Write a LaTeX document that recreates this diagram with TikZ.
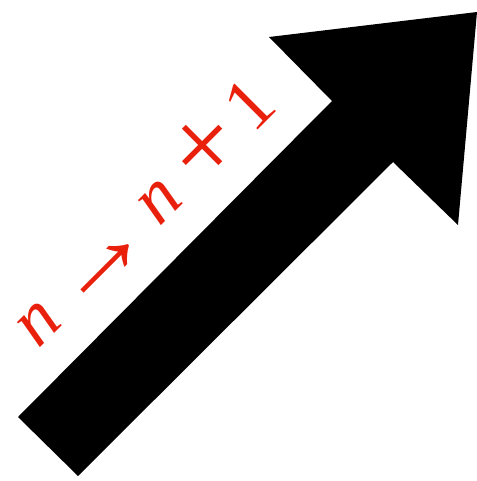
\documentclass[tikz,border=0pt]{standalone}
\usepackage{fontspec}
\setmainfont{Liberation Serif}
\usepackage{xcolor}
\definecolor{steplabel}{RGB}{232,32,12}
\newcommand\bigsym[1]{\raisebox{-0.12em}{\fontsize{15}{15}\selectfont #1}}

\begin{document}
\begin{tikzpicture}[
  x=0.02cm, y=-0.02cm,
  bigarrow/.style={fill=black, draw=none},
  lbl/.style={text=steplabel, font=\normalsize, scale=4.2, rotate=45, inner sep=0pt}
]
\useasboundingbox (0,0) rectangle (477,481);
% thick arrow with its head
\fill[bigarrow] (18,417) -- (332,101) -- (269,37) -- (477,12) -- (458,225) -- (393,162) -- (78,476) -- cycle;
\node[lbl] (step) at (143,213) {\textit{n}\,\bigsym{→}\,\textit{n}\;\bigsym{+}\,1};
\end{tikzpicture}
\end{document}
